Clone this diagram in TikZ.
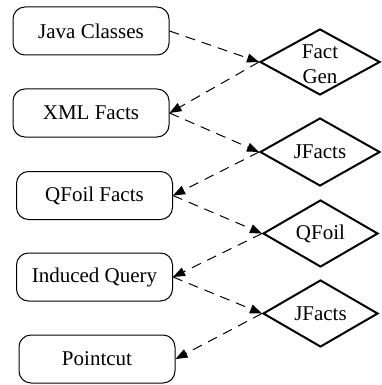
\documentclass[tikz,border=0pt]{standalone}
\usepackage{fontspec}
\setmainfont{Liberation Serif}
\usetikzlibrary{shapes.geometric,arrows.meta}
\begin{document}
\begin{tikzpicture}[x=1pt,y=-1pt,
  box/.style={draw,line width=1pt,rounded corners=12pt,minimum width=156pt,minimum height=48pt,inner sep=0pt,font=\fontsize{21}{24}\selectfont},
  dia/.style={draw,line width=2pt,shape=diamond,inner sep=0pt,minimum width=117pt,minimum height=66pt},
  dtext/.style={align=center,font=\fontsize{21}{25}\selectfont,inner sep=0pt},
  flow/.style={dash pattern=on 10pt off 7pt,line width=1pt,-{Triangle[length=12pt,width=9pt]}}]
\useasboundingbox (0,0) rectangle (381,385);
\node[box] (java) at (91,31) {Java Classes};
\node[box] (xml) at (91,113) {XML Facts};
\node[box] (qff) at (94.5,195.5) {QFoil Facts};
\node[box] (iq) at (94.5,277) {Induced Query};
\node[box] (pc) at (97,359) {Pointcut};
\node[dia,minimum width=120pt,label={[dtext,yshift=-2pt]center:Fact\\Gen}] (fg) at (320,62) {};
\node[dia,minimum width=120pt,minimum height=68pt,label={[dtext]center:JFacts}] (jf1) at (320,152) {};
\node[dia,minimum width=115pt,minimum height=67pt,label={[dtext]center:QFoil}] (qf) at (320.5,233.5) {};
\node[dia,minimum width=115pt,minimum height=67pt,label={[dtext]center:JFacts}] (jf2) at (320.5,313.5) {};
\draw[flow] (java.east) -- (fg.west);
\draw[flow] (fg.west) -- (xml.east);
\draw[flow] (xml.east) -- (jf1.west);
\draw[flow] (jf1.west) -- (qff.east);
\draw[flow] (qff.east) -- (qf.west);
\draw[flow] (qf.west) -- (iq.east);
\draw[flow] (iq.east) -- (jf2.west);
\draw[flow] (jf2.west) -- (pc.east);
\end{tikzpicture}
\end{document}
